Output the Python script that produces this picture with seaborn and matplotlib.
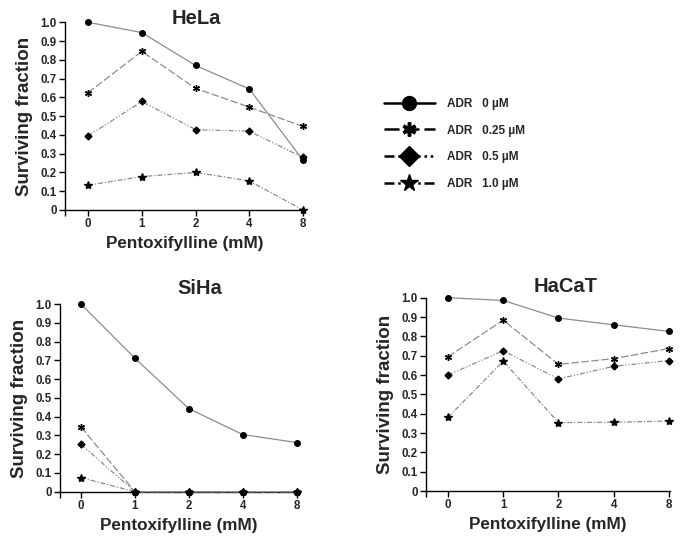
import numpy as np
import pandas as pd
import matplotlib.pyplot as plt
import seaborn as sns
from matplotlib.lines import Line2D
from matplotlib.ticker import FuncFormatter

# Data
doses = ['0', '1', '2', '4', '8']
adr = ['0', '0.25', '0.5', '1.0']

hela_0 = [1.0, 0.945, 0.77, 0.645, 0.265]
hela_025 = [0.625, 0.845, 0.648, 0.548, 0.445]
hela_05 = [0.395, 0.578, 0.428, 0.42, 0.28]
hela_10 = [0.132, 0.178, 0.2, 0.155, 0.0]

siha_0 = [1.0, 0.712, 0.443, 0.305, 0.262]
siha_025 = [0.345, 0.0, 0.0, 0.0, 0.0]
siha_05 = [0.252, 0.0, 0.0, 0.0, 0.0]
siha_10 = [0.075, 0.0, 0.0, 0.0, 0.0]

hacat_0 = [1.0, 0.986, 0.895, 0.86, 0.826]
hacat_025 = [0.695, 0.884, 0.655, 0.685, 0.737]
hacat_05 = [0.6, 0.726, 0.58, 0.645, 0.675]
hacat_10 = [0.382, 0.672, 0.354, 0.356, 0.362]

sns.set_style("ticks")
plt.rcParams['font.family'] = ['Liberation Sans', 'DejaVu Sans']
plt.rcParams['font.weight'] = 'bold'
plt.rcParams['axes.labelweight'] = 'bold'

markers = ['o', (6, 2, 0), 'D', '*']
msizes = [4, 5, 3.5, 6]
styles = ['-', (0, (6, 2)), (0, (4, 1.5, 1, 1.5, 1, 1.5)), (0, (4, 1.5, 1, 1.5))]

fig = plt.figure(figsize=(6.85, 5.45), dpi=100)

panels = [
    ('HeLa', [hela_0, hela_025, hela_05, hela_10], [0.0949, 0.6147, 0.349, 0.3444], -0.43, (0.548, 1.02)),
    ('SiHa', [siha_0, siha_025, siha_05, siha_10], [0.0876, 0.0978, 0.347, 0.344], -0.39, (0.588, 1.085)),
    ('HaCaT', [hacat_0, hacat_025, hacat_05, hacat_10], [0.6219, 0.099, 0.356, 0.3547], -0.40, (0.571, 1.057)),
]

xpos = np.arange(len(doses))
for name, series, rect, xleft, tpos in panels:
    ax = fig.add_axes(rect)
    for i, vals in enumerate(series):
        sns.lineplot(x=xpos, y=vals, ax=ax, color='0.55', lw=0.9,
                     linestyle=styles[i], marker=markers[i], ms=msizes[i],
                     markerfacecolor='k', markeredgecolor='k', mew=1.0,
                     clip_on=False, zorder=3)
    ax.set_xlim(xleft, 4.02)
    ax.set_ylim(0, 1.0)
    ax.set_xticks([xleft] + list(xpos))
    ax.set_xticklabels([''] + doses)
    ax.set_yticks(np.linspace(0, 1, 11))
    ax.yaxis.set_major_formatter(FuncFormatter(lambda v, p: '0' if v == 0 else f'{v:.1f}'))
    ax.tick_params(labelsize=8.3, length=4, width=1, color='k', pad=2)
    for lab in ax.get_xticklabels() + ax.get_yticklabels():
        lab.set_fontweight('bold')
    for s in ['left', 'bottom']:
        ax.spines[s].set_color('k')
        ax.spines[s].set_linewidth(1)
    sns.despine(ax=ax)
    ax.set_xlabel('Pentoxifylline (mM)', fontsize=12.3, labelpad=4)
    ax.set_ylabel('Surviving fraction', fontsize=13.5, labelpad=5)
    ax.text(tpos[0], tpos[1], name, transform=ax.transAxes, ha='center',
            va='center', fontsize=14.5, fontweight='bold')

handles = []
for i in range(4):
    handles.append(Line2D([], [], color='k', lw=1.8, linestyle=styles[i],
                          marker=markers[i], ms=[10, 10, 10, 13][i],
                          markerfacecolor='k', markeredgecolor='k', mew=2.5 if i == 1 else 1))
fig.legend(handles, [f'ADR   {c} µM' for c in adr], loc='upper left',
           bbox_to_anchor=(0.545, 0.84), frameon=False, handlelength=4.3,
           handletextpad=1.0, labelspacing=1.25, prop={'size': 8.5, 'weight': 'bold'})

fig.savefig('out.png', dpi=100)
